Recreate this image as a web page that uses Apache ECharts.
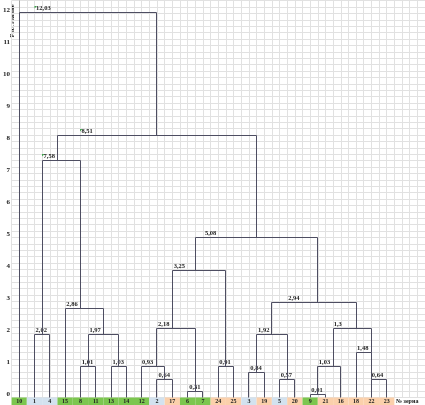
<!DOCTYPE html>
<html><head><meta charset="utf-8">
<script src="https://cdn.jsdelivr.net/npm/echarts@6/dist/echarts.min.js"></script>
<style>html,body{margin:0;padding:0;background:#fff}#c{width:425px;height:405px}</style>
</head><body><div id="c"></div>
<script>
// ---- DATA ----
// grain numbers in dendrogram (leaf) order
const leafLabels = ['10','1','4','15','8','11','13','14','12','2','17','6','7','24','25','3','19','5','20','9','21','16','18','22','23'];
// group of each grain: g = green, b = blue, p = peach
const leafGroups = ['g','b','b','g','g','g','g','g','g','b','p','g','g','p','p','b','p','b','p','g','p','p','p','p','p'];
// merge nodes: children ('L' + leaf index, 'N' + node index)
const nodeLeft  = ['L1','L4','L6','N1','L3','N0','L9','L8','L11','N7','L13','N9','L15','L17','N12','L19','N15','L23','L22','N16','N14','N11','N5','L0'];
const nodeRight = ['L2','L5','L7','N2','N3','N4','L10','N6','L12','N8','L14','N10','L16','L18','N13','L20','L21','L24','N17','N18','N19','N20','N21','N22'];
// distance written at each merge
const distanceLabels = ['2,02','1,01','1,03','1,97','2,86','7,58','0,64','0,93','0,31','2,18','0,91','3,25','0,84','0,57','1,92','0,01','1,03','0,64','1,48','1,3','2,94','5,08','8,51','12,03'];
// height at which each merge line is drawn
const nodeHeights = [1.98,0.97,0.97,1.98,2.79,7.42,0.57,0.97,0.18,2.17,0.97,3.97,0.79,0.57,1.98,0.1,0.97,0.57,1.4,2.15,2.96,5.0,8.2,12.02];
const yTickLabels = ['0','1','2','3','4','5','6','7','8','9','10','11','12'];
const yAxisTitle = 'Расстояние';
const xAxisTitle = '№ зерна';
const flaggedNodes = [5,22,23];

// ---- LAYOUT (positions in leaf units) ----
const nodeRiserX = [1.5,4.5,6.5,5.5,4,2.5,9.5,9,11.5,10,13.5,11.5,15.5,17.5,16.5,19.5,20.5,23,23,22,19.5,15.5,9,4.5];
const labelX = [1.07,4.09,6.1,4.59,3.08,1.59,9.1,8.02,11.1,9.07,13.07,10.09,15.09,17.08,15.6,19.08,19.57,23.03,22.06,20.54,17.57,12.13,4.07,1.1];

const groupColors = {g:'#7cc64f', b:'#d3e2ef', p:'#fbd0ab'};
const lineColor = '#4e4e62';
const FONT = 'bold 6.5px "Liberation Serif"';
const snap = v => Math.round(v - 0.5) + 0.5;

function childX(ref){ return ref[0]==='L' ? +ref.slice(1) : nodeRiserX[+ref.slice(1)]; }
function childH(ref){ return ref[0]==='L' ? 0 : nodeHeights[+ref.slice(1)]; }

const chart = echarts.init(document.getElementById('c'), null, {renderer:'canvas'});
chart.setOption({
  animation:false,
  backgroundColor:'#fff',
  grid:{left:8, right:0, top:0.7, bottom:7.5},
  xAxis:{type:'value', min:-0.5, max:26.5, interval:0.5,
    axisLine:{show:false}, axisTick:{show:false}, axisLabel:{show:false},
    splitLine:{show:true, lineStyle:{color:'#e1e1e1', width:1}}},
  yAxis:{type:'value', min:0, max:12.4, interval:0.2,
    axisLine:{show:true, lineStyle:{color:'#a8a8a8'}}, axisTick:{show:false},
    axisLabel:{margin:1.5, fontSize:7, fontWeight:'bold', fontFamily:'Liberation Serif', color:'#222', verticalAlign:'bottom',
      formatter: v => { const r = Math.round(v); return Math.abs(v - r) < 1e-6 && yTickLabels[r] !== undefined ? yTickLabels[r] : ''; }},
    splitLine:{show:true, lineStyle:{color:'#e1e1e1', width:1}}},
  graphic:[
    {type:'text', x:12, y:21, rotation:Math.PI/2, style:{text:yAxisTitle, font:'bold 6.5px "Liberation Serif"', fill:'#1a1a1a', align:'center', verticalAlign:'middle'}},
    {type:'text', x:396, y:401.5, style:{text:xAxisTitle, font:'bold 6px "Liberation Serif"', fill:'#222', align:'left', verticalAlign:'middle'}}
  ],
  series:[
    {type:'custom', clip:false, z:3,
      data: leafLabels.map((_, i) => [i, 0]),
      encode:{x:0, y:1},
      renderItem:(params, api) => {
        const i = params.dataIndex;
        const a = api.coord([i-0.5, 0]), b = api.coord([i+0.5, -0.234]);
        return {type:'group', children:[
          {type:'rect', shape:{x:a[0], y:a[1], width:b[0]-a[0], height:b[1]-a[1]}, style:{fill:groupColors[leafGroups[i]]}},
          {type:'text', x:(a[0]+b[0])/2, y:(a[1]+b[1])/2+0.5, style:{text:leafLabels[i], font:'bold 6px "Liberation Serif"', fill:'#222', align:'center', verticalAlign:'middle'}}
        ]};
      }},
    {type:'custom', clip:false, z:4,
      data: nodeHeights.map((h, k) => [nodeRiserX[k], h]),
      encode:{x:0, y:1},
      renderItem:(params, api) => {
        const k = params.dataIndex, h = nodeHeights[k];
        const xl = childX(nodeLeft[k]), xr = childX(nodeRight[k]);
        const p = (x, y) => { const c = api.coord([x, y]); return [snap(c[0]), snap(c[1])]; };
        const l0 = p(xl, childH(nodeLeft[k])), l1 = p(xl, h), r1 = p(xr, h), r0 = p(xr, childH(nodeRight[k]));
        const lx = api.coord([labelX[k], h])[0];
        const children = [
          {type:'polyline', shape:{points:[l0, l1, r1, r0]}, style:{stroke:lineColor, lineWidth:1, fill:null}},
          {type:'text', x:lx, y:l1[1]-0.5, style:{text:distanceLabels[k], font:FONT, fill:'#1e1e1e', align:'left', verticalAlign:'bottom'}}
        ];
        if (flaggedNodes.indexOf(k) >= 0) {
          const tx = lx - 1.5, ty = l1[1] - 6.5;
          children.push({type:'polygon', shape:{points:[[tx,ty],[tx+2.5,ty],[tx,ty+2.5]]}, style:{fill:'#3fa34d'}});
        }
        return {type:'group', children};
      }}
  ]
});
</script></body></html>
